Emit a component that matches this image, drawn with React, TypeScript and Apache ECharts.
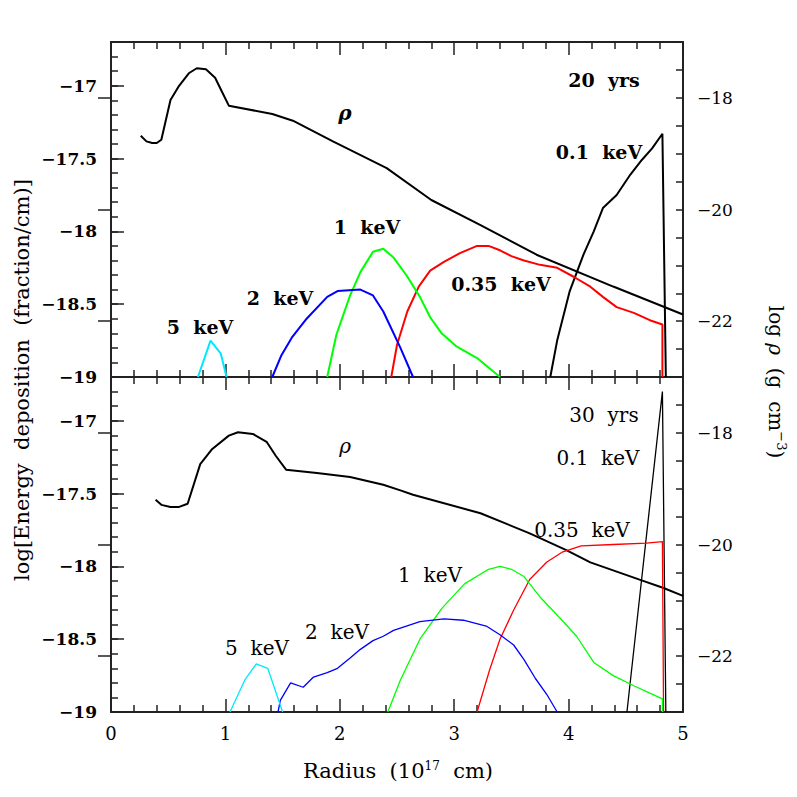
import React, { useEffect, useRef } from "react";
import * as echarts from "echarts";

// ---- data (x: radius in 1e17 cm, y: log energy deposition or log rho) ----
const rho20 = [[0.26,-18.68],[0.31,-18.78],[0.36,-18.81],[0.40,-18.81],[0.44,-18.75],[0.52,-18.04],[0.59,-17.80],[0.68,-17.56],[0.75,-17.47],[0.83,-17.49],[0.91,-17.64],[0.97,-17.89],[1.03,-18.14],[1.41,-18.29],[1.59,-18.41],[1.94,-18.78],[2.41,-19.26],[2.80,-19.83],[3.23,-20.28],[3.72,-20.81],[4.39,-21.38],[5.0,-21.88]];
const e01_20 = [[3.84,-19],[3.90,-18.75],[4.01,-18.41],[4.13,-18.16],[4.22,-18.0],[4.30,-17.84],[4.42,-17.75],[4.54,-17.61],[4.64,-17.51],[4.73,-17.43],[4.82,-17.33],[4.85,-19]];
const e035_20 = [[2.45,-19],[2.50,-18.78],[2.59,-18.55],[2.69,-18.38],[2.79,-18.27],[2.91,-18.21],[3.05,-18.15],[3.20,-18.10],[3.30,-18.10],[3.40,-18.13],[3.50,-18.17],[3.61,-18.20],[3.75,-18.23],[3.90,-18.25],[4.04,-18.31],[4.19,-18.38],[4.30,-18.45],[4.42,-18.52],[4.57,-18.56],[4.71,-18.61],[4.82,-18.64],[4.82,-19]];
const e1_20 = [[1.89,-19],[1.97,-18.71],[2.09,-18.44],[2.18,-18.28],[2.29,-18.14],[2.38,-18.12],[2.47,-18.18],[2.59,-18.31],[2.70,-18.45],[2.79,-18.59],[2.89,-18.70],[3.02,-18.79],[3.20,-18.87],[3.40,-19]];
const e2_20 = [[1.41,-19],[1.49,-18.85],[1.58,-18.73],[1.71,-18.60],[1.89,-18.45],[1.98,-18.41],[2.18,-18.40],[2.29,-18.44],[2.38,-18.55],[2.44,-18.65],[2.53,-18.80],[2.64,-19]];
const e5_20 = [[0.76,-19],[0.87,-18.75],[0.96,-18.84],[1.01,-19]];

const rho30 = [[0.39,-19.20],[0.44,-19.29],[0.52,-19.33],[0.59,-19.33],[0.67,-19.27],[0.78,-18.56],[0.88,-18.30],[1.03,-18.05],[1.11,-17.99],[1.24,-18.02],[1.36,-18.16],[1.44,-18.41],[1.53,-18.66],[1.80,-18.72],[2.09,-18.79],[2.38,-18.93],[2.53,-19.03],[2.64,-19.11],[3.23,-19.44],[3.66,-19.80],[3.98,-20.10],[4.19,-20.32],[4.62,-20.63],[4.83,-20.78],[5.0,-20.92]];
const e01_30 = [[4.51,-19],[4.82,-16.80],[4.85,-19]];
const e035_30 = [[3.20,-19],[3.31,-18.71],[3.40,-18.50],[3.52,-18.30],[3.66,-18.09],[3.81,-17.97],[3.95,-17.90],[4.11,-17.86],[4.39,-17.85],[4.68,-17.84],[4.82,-17.83],[4.83,-19]];
const e1_30 = [[2.42,-19],[2.53,-18.78],[2.70,-18.50],[2.89,-18.29],[3.09,-18.12],[3.30,-18.02],[3.40,-18.00],[3.50,-18.02],[3.61,-18.07],[3.75,-18.21],[3.93,-18.36],[4.07,-18.48],[4.22,-18.66],[4.39,-18.75],[4.57,-18.82],[4.71,-18.87],[4.82,-18.91],[4.82,-19]];
const e2_30 = [[1.46,-19],[1.48,-18.92],[1.57,-18.80],[1.68,-18.83],[1.77,-18.76],[1.89,-18.73],[1.98,-18.70],[2.09,-18.63],[2.18,-18.57],[2.29,-18.51],[2.38,-18.48],[2.47,-18.44],[2.70,-18.38],[2.91,-18.36],[3.08,-18.37],[3.28,-18.41],[3.40,-18.47],[3.52,-18.54],[3.61,-18.64],[3.71,-18.77],[3.81,-18.88],[3.90,-19]];
const e5_30 = [[1.04,-19],[1.17,-18.78],[1.27,-18.67],[1.37,-18.70],[1.50,-19]];

const rhoTickLabels = [-22, -20, -18];
const leftTickLabels = [-19, -18.5, -18, -17.5, -17];

const FONT = '"DejaVu Serif", serif';
const AX = "#222";

const fmtNum = (v: number) => (v < 0 ? "\u2212" : "") + String(Math.abs(Math.round(v * 10) / 10));

function xAx(gridIndex: number, position: string, showLabel: boolean) {
  return {
    type: "value", gridIndex, position, min: 0, max: 5, interval: 1,
    axisLine: { show: true, onZero: false, lineStyle: { color: AX, width: 2 } },
    axisTick: { show: true, inside: true, length: 13, lineStyle: { color: AX, width: 1.5 } },
    minorTick: { show: true, splitNumber: 5, length: 7, lineStyle: { color: AX, width: 1.5 } },
    splitLine: { show: false }, minorSplitLine: { show: false },
    axisLabel: { show: showLabel, margin: 12, fontFamily: FONT, fontSize: 18, color: "#000", formatter: (v: number) => String(v) },
  };
}

function yAxes(gridIndex: number) {
  return [
    { // left minor ticks (energy axis, data)
      type: "value", gridIndex, position: "left", min: -19, max: -16.7, interval: 0.1,
      axisLine: { show: true, onZero: false, lineStyle: { color: AX, width: 2 } },
      axisTick: { show: true, inside: true, length: 7, lineStyle: { color: AX, width: 1.5 } },
      axisLabel: { show: false }, splitLine: { show: false },
    },
    { // left major ticks + labels
      type: "value", gridIndex, position: "left", min: -19, max: -16.7, interval: 0.5,
      axisLine: { show: false },
      axisTick: { show: true, inside: true, length: 13, customValues: leftTickLabels, lineStyle: { color: AX, width: 1.5 } },
      axisLabel: {
        show: true, margin: 14, fontFamily: FONT, fontSize: 17, fontWeight: "bold", color: "#000",
        customValues: leftTickLabels, formatter: (v: number) => fmtNum(v),
      },
      splitLine: { show: false },
    },
    { // right minor ticks (rho axis, data)
      type: "value", gridIndex, position: "right", min: -23, max: -17, interval: 0.5,
      axisLine: { show: true, onZero: false, lineStyle: { color: AX, width: 2 } },
      axisTick: { show: true, inside: true, length: 7, lineStyle: { color: AX, width: 1.5 } },
      axisLabel: { show: false }, splitLine: { show: false },
    },
    { // right major ticks + labels
      type: "value", gridIndex, position: "right", min: -23, max: -17, interval: 1,
      axisLine: { show: false },
      axisTick: { show: true, inside: true, length: 13, customValues: rhoTickLabels, lineStyle: { color: AX, width: 1.5 } },
      axisLabel: {
        show: true, margin: 14, fontFamily: FONT, fontSize: 17, color: "#000",
        customValues: rhoTickLabels, formatter: (v: number) => fmtNum(v),
      },
      splitLine: { show: false },
    },
  ];
}

function line(data: number[][], color: string, width: number, xi: number, yi: number) {
  return {
    type: "line", data, xAxisIndex: xi, yAxisIndex: yi, symbol: "none", showSymbol: false,
    lineStyle: { color, width }, clip: true, silent: true, z: 3,
  };
}

function label(text: string, x: number, y: number, bold: boolean, size: number, italic = false) {
  return {
    type: "text", x, y, z: 10,
    style: {
      text, fill: "#000", align: "center", verticalAlign: "middle",
      font: `${italic ? "italic " : ""}${bold ? "bold " : ""}${size}px ${FONT}`,
    },
  };
}

export default function App() {
  const ref = useRef<HTMLDivElement>(null);
  useEffect(() => {
    if (!ref.current) return;
    const chart = echarts.init(ref.current, undefined, { renderer: "svg" });
    const option = {
      animation: false,
      backgroundColor: "#fff",
      grid: [
        { left: 111, top: 42, width: 572, height: 335, containLabel: false },
        { left: 111, top: 377, width: 572, height: 335, containLabel: false },
      ],
      xAxis: [xAx(0, "bottom", false), xAx(0, "top", false), xAx(1, "bottom", true), xAx(1, "top", false)],
      yAxis: [...yAxes(0), ...yAxes(1)],
      series: [
        line(rho20, "#000", 2, 0, 2),
        line(e01_20, "#000", 2, 0, 0),
        line(e035_20, "#ff0000", 2, 0, 0),
        line(e1_20, "#00ff00", 2, 0, 0),
        line(e2_20, "#0000ff", 2, 0, 0),
        line(e5_20, "#00e8ff", 2, 0, 0),
        line(rho30, "#000", 2, 2, 6),
        line(e01_30, "#000", 1.3, 2, 4),
        line(e035_30, "#ff0000", 1.3, 2, 4),
        line(e1_30, "#00ff00", 1.3, 2, 4),
        line(e2_30, "#0000ff", 1.3, 2, 4),
        line(e5_30, "#00e8ff", 1.3, 2, 4),
      ],
      graphic: [
        label("20  yrs", 604, 80, true, 19),
        label("\u03c1", 345, 113, true, 20, true),
        label("0.1  keV", 599, 152, true, 19),
        label("1  keV", 367, 227, true, 19),
        label("0.35  keV", 501, 284, true, 19),
        label("2  keV", 280, 298, true, 19),
        label("5  keV", 200, 327, true, 19),
        label("30  yrs", 604, 415, false, 20),
        label("\u03c1", 345, 446, false, 20, true),
        label("0.1  keV", 598, 458, false, 20),
        label("0.35  keV", 582, 530, false, 20),
        label("1  keV", 430, 575, false, 20),
        label("2  keV", 337, 632, false, 20),
        label("5  keV", 257, 648, false, 20),
        {
          type: "text", x: 22, y: 380, rotation: Math.PI / 2, z: 10,
          style: { text: "log[Energy  deposition  (fraction/cm)]", fill: "#000", align: "center", verticalAlign: "middle", font: `21px ${FONT}` },
        },
        {
          type: "text", x: 776, y: 382, rotation: -Math.PI / 2, z: 10,
          style: {
            text: "{n|log }{i|\u03c1}{n|  (g  cm}{s|\u22123}{n|)}", fill: "#000", align: "center", verticalAlign: "middle",
            font: `20px ${FONT}`,
            rich: {
              n: { fontFamily: FONT, fontSize: 20, fill: "#000" },
              i: { fontFamily: FONT, fontSize: 20, fontStyle: "italic", fill: "#000" },
              s: { fontFamily: FONT, fontSize: 13, fill: "#000", padding: [0, 0, 10, 0] },
            },
          },
        },
        {
          type: "text", x: 398, y: 771, z: 10,
          style: {
            text: "{n|Radius  (10}{s|17}{n|  cm)}", fill: "#000", align: "center", verticalAlign: "middle",
            font: `21px ${FONT}`,
            rich: {
              n: { fontFamily: FONT, fontSize: 21, fill: "#000" },
              s: { fontFamily: FONT, fontSize: 12, fill: "#000", padding: [0, 0, 10, 0] },
            },
          },
        },
      ],
    };
    chart.setOption(option as any);
    return () => chart.dispose();
  }, []);
  return <div ref={ref} style={{ position: "absolute", left: 0, top: 0, width: 797, height: 797 }} />;
}
